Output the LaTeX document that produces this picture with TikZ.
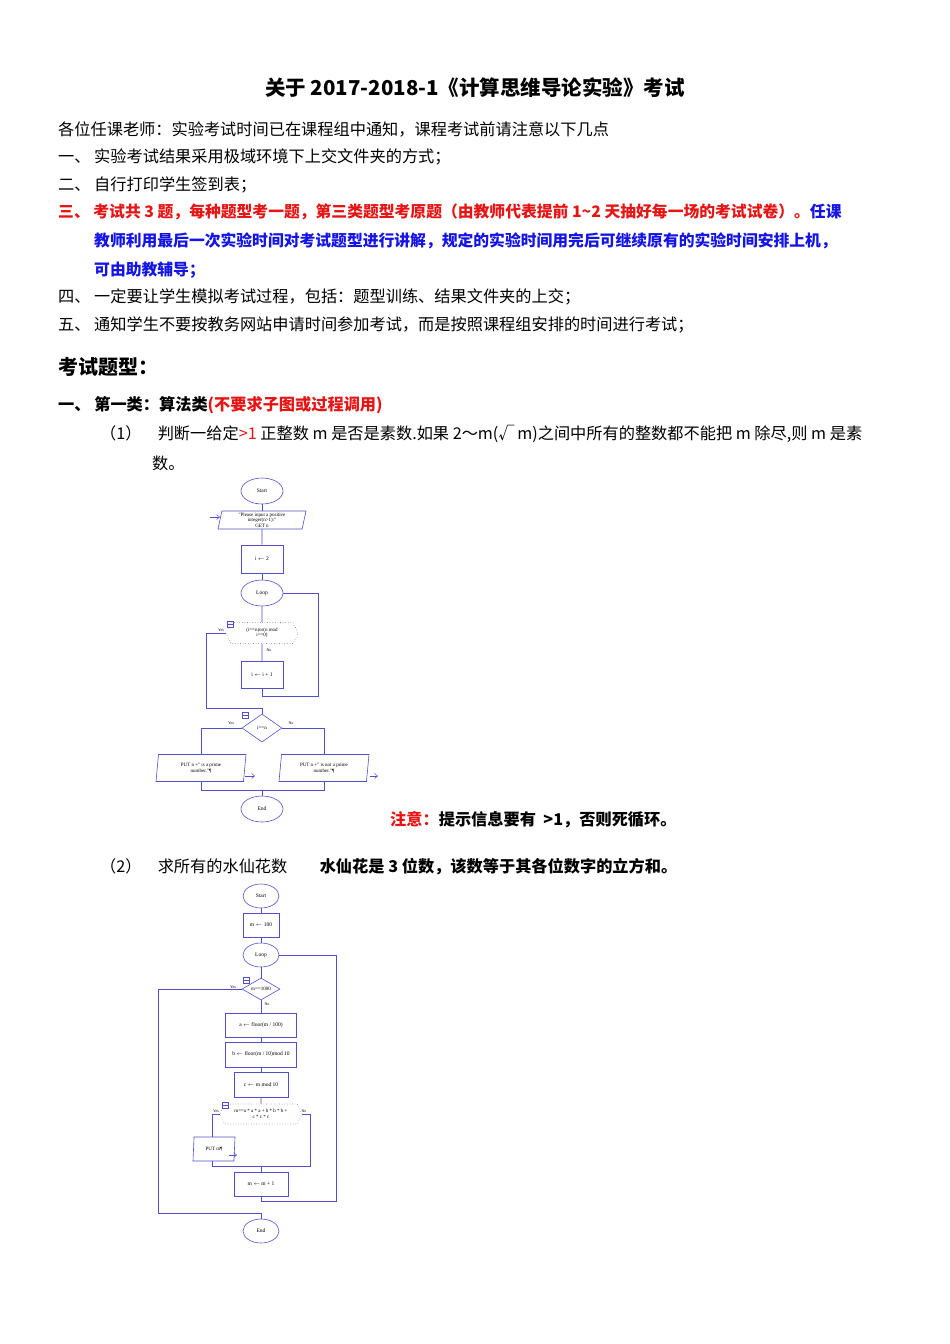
\documentclass[tikz,border=0pt]{standalone}
\usepackage{fontspec}
\setmainfont{Carlito}
\newfontfamily\ser{Liberation Serif}
\newfontfamily\cjk{Noto Sans CJK SC}
\usetikzlibrary{shapes.geometric,shapes.symbols,arrows.meta}
\definecolor{fc}{RGB}{80,80,205}
\definecolor{rd}{RGB}{230,20,20}
\definecolor{bl}{RGB}{20,20,230}
\begin{document}
\begin{tikzpicture}[x=1pt,y=-1pt,
 tx/.style={anchor=west,inner sep=0pt,font=\fontsize{16.2}{17}\selectfont\cjk},
 txb/.style={anchor=west,inner sep=0pt,font=\fontsize{16.2}{17}\selectfont\cjk\bfseries},
 fl/.style={draw=fc,line width=0.6pt},
 ov/.style={fl,ellipse,minimum width=42pt,minimum height=26pt,inner sep=0pt,font=\fontsize{5.5}{6}\selectfont\ser},
 bx/.style={fl,rectangle,inner sep=0pt,font=\fontsize{5.5}{6}\selectfont\ser,align=center},
 pg/.style={fl,trapezium,trapezium left angle=75,trapezium right angle=105,trapezium stretches body,inner sep=0pt,font=\fontsize{5}{5.5}\selectfont\ser,align=center},
 hx/.style={draw=fc!70,dotted,line width=0.6pt,signal,signal to=east and west,signal pointer angle=130,inner sep=0pt,font=\fontsize{5}{5.5}\selectfont\ser,align=center},
 dm/.style={fl,diamond,aspect=1.8,inner sep=0pt,font=\fontsize{5}{5.5}\selectfont\ser},
 lb/.style={inner sep=0pt,font=\fontsize{4}{4}\selectfont\ser},
 ic/.style={draw=fc,minimum width=6pt,minimum height=6pt,inner sep=0pt,path picture={\draw[fc] (path picture bounding box.west)--(path picture bounding box.east);}},
 oa/.style={fc,-{Straight Barb[length=3pt,width=5pt]},line width=0.5pt}]
\useasboundingbox (0,0) rectangle (950,1344);
% ---- text
\node[inner sep=0pt,font=\fontsize{20.5}{21}\selectfont\cjk\bfseries] (title) at (475,88) {关于 2017-2018-1《计算思维导论实验》考试};
\node[tx] (t0) at (58,129) {各位任课老师：实验考试时间已在课程组中通知，课程考试前请注意以下几点};
\node[tx] (t1) at (58,157) {一、\ 实验考试结果采用极域环境下上交文件夹的方式；};
\node[tx] (t2) at (58,185) {二、\ 自行打印学生签到表；};
\node[txb,text=rd,font=\fontsize{15.8}{17}\selectfont\cjk\bfseries] (t3) at (58,212) {三、\ 考试共 3 题，每种题型考一题，第三类题型考原题（由教师代表提前 1\textasciitilde2 天抽好每一场的考试试卷）。\textcolor{bl}{任课}};
\node[txb,text=bl,font=\fontsize{15.8}{17}\selectfont\cjk\bfseries] (t3b) at (94,241) {教师利用最后一次实验时间对考试题型进行讲解，规定的实验时间用完后可继续原有的实验时间安排上机，};
\node[txb,text=bl,font=\fontsize{15.8}{17}\selectfont\cjk\bfseries] (t3c) at (94,270) {可由助教辅导；};
\node[tx] (t4) at (58,297) {四、\ 一定要让学生模拟考试过程，包括：题型训练、结果文件夹的上交；};
\node[tx] (t5) at (58,325) {五、\ 通知学生不要按教务网站申请时间参加考试，而是按照课程组安排的时间进行考试；};
\node[inner sep=0pt,anchor=west,font=\fontsize{20}{21}\selectfont\cjk\bfseries] (h) at (58,367) {考试题型：};
\node[txb] (c1) at (58,405) {一、\ 第一类：算法类\textcolor{rd}{(不要求子图或过程调用)}};
\node[tx] (q1) at (100,434) {（1）\quad 判断一给定\textcolor{rd}{>1} 正整数 m 是否是素数.如果 2～m(√\,\textit{m})之间中所有的整数都不能把 m 除尽,则 m 是素};
\node[tx] (q1b) at (152,463) {数。};
\node[txb] (note) at (390,820) {\textcolor{rd}{注意：}提示信息要有\ \ >1，否则死循环。};
\node[tx] (q2) at (100,867) {（2）\quad 求所有的水仙花数\qquad\textbf{水仙花是 3 位数，该数等于其各位数字的立方和。}};
% ---- flowchart 1
\node[ov] (s1) at (262,491) {Start};
\node[pg,minimum width=88pt,minimum height=18pt] (in1) at (262,520) {"Please input a positive\\integer(n>1):"\\GET n};
\node[bx,minimum width=42pt,minimum height=28pt] (i2) at (262,559) {i $\leftarrow$ 2};
\node[ov] (lp1) at (262,593) {Loop};
\node[hx,minimum width=72pt,minimum height=21pt] (d1) at (262,633) {(i==n)or(n mod\\i==0)};
\node[ic] (ic1) at (230,624) {};
\node[bx,minimum width=42pt,minimum height=27pt] (inc) at (262,675) {i $\leftarrow$ i + 1};
\node[dm,minimum width=40pt,minimum height=28pt] (d2) at (262,728) {i==n};
\node[ic] (ic2) at (245,715) {};
\node[pg,minimum width=90pt,minimum height=27pt] (o1) at (201,768) {PUT n +" is a prime\\number."\P};
\node[pg,minimum width=90pt,minimum height=27pt] (o2) at (324,768) {PUT n +" is not a prime\\number."\P};
\node[ov] (e1) at (262,809) {End};
\coordinate (a1) at (210,517);
\draw[oa] (a1) -- ++(10,0);
\draw[fl] (s1) -- (in1); \draw[fl] (in1) -- (i2); \draw[fl] (i2) -- (lp1); \draw[fl] (lp1) -- (d1);
\draw[fl] (d1) -- (inc);
\draw[fl] (inc.south) -- ++(0,7) -| (318,593) -- (lp1.east);
\draw[fl] (d1.west) -- (206,633) |- (262,708) -- (d2.north);
\draw[fl] (d2.west) -| (o1.north);
\draw[fl] (d2.east) -| (o2.north);
\draw[fl] (o1.south) -- ++(0,8) coordinate (j1) -- (j1 -| o2.south) -- (o2.south);
\draw[fl] (j1 -| e1) -- (e1);
\coordinate (a2) at (245,776); \coordinate (a3) at (370,776);
\draw[oa] (a2) -- ++(10,0);
\draw[oa] (a3) -- ++(8,0);
\node[lb] at (221,630) {Yes}; \node[lb] at (269,650) {No};
\node[lb] at (231,723) {Yes}; \node[lb] at (291,723) {No};
% ---- flowchart 2
\node[ov,minimum width=36pt,minimum height=24pt] (s2) at (261,896) {Start};
\node[bx,minimum width=36pt,minimum height=24pt] (m100) at (261,925) {m $\leftarrow$ 100};
\node[ov,minimum width=36pt,minimum height=24pt] (lp2) at (261,955) {Loop};
\node[dm,minimum width=38pt,minimum height=22pt] (d3) at (261,989) {m==1000};
\node[ic] (ic3) at (246,980) {};
\node[bx,minimum width=71pt,minimum height=24pt] (ba) at (261,1025) {a $\leftarrow$ floor(m / 100)};
\node[bx,minimum width=71pt,minimum height=25pt] (bb) at (261,1054.5) {b $\leftarrow$ floor(m / 10)mod 10};
\node[bx,minimum width=54pt,minimum height=25pt] (bc) at (261,1084.5) {c $\leftarrow$ m mod 10};
\node[hx,minimum width=82pt,minimum height=20pt] (d4) at (261,1114) {m==a * a * a + b * b * b +\\c * c * c};
\node[ic] (ic4) at (225,1105) {};
\node[pg,minimum width=42pt,minimum height=24pt] (o3) at (214,1149) {PUT m\P};
\node[bx,minimum width=54pt,minimum height=24pt] (bm) at (261,1184) {m $\leftarrow$ m + 1};
\node[ov,minimum width=36pt,minimum height=24pt] (e2) at (261,1231) {End};
\draw[fl] (s2) -- (m100); \draw[fl] (m100) -- (lp2); \draw[fl] (lp2) -- (d3);
\draw[fl] (d3) -- (ba); \draw[fl] (ba) -- (bb); \draw[fl] (bb) -- (bc); \draw[fl] (bc) -- (d4);
\draw[fl] (d3.west) -- (158,989) |- (261,1213) -- (e2.north);
\draw[fl] (d4.west) -- (212,1114) -- (212,1137);
\draw[fl] (212,1161) -- (212,1166) coordinate (j2) -- (310,1166) |- (d4.east);
\draw[fl] (261,1166) -- (bm.north);
\draw[fl] (bm.south) -- (261,1201) -- (336,1201) |- (lp2.east);
\coordinate (a4) at (229,1155);
\draw[oa] (a4) -- ++(8,0);
\node[lb] at (233,987) {Yes}; \node[lb] at (267,1004) {No};
\node[lb] at (216,1111) {Yes}; \node[lb] at (304,1111) {No};
\end{tikzpicture}
\end{document}
